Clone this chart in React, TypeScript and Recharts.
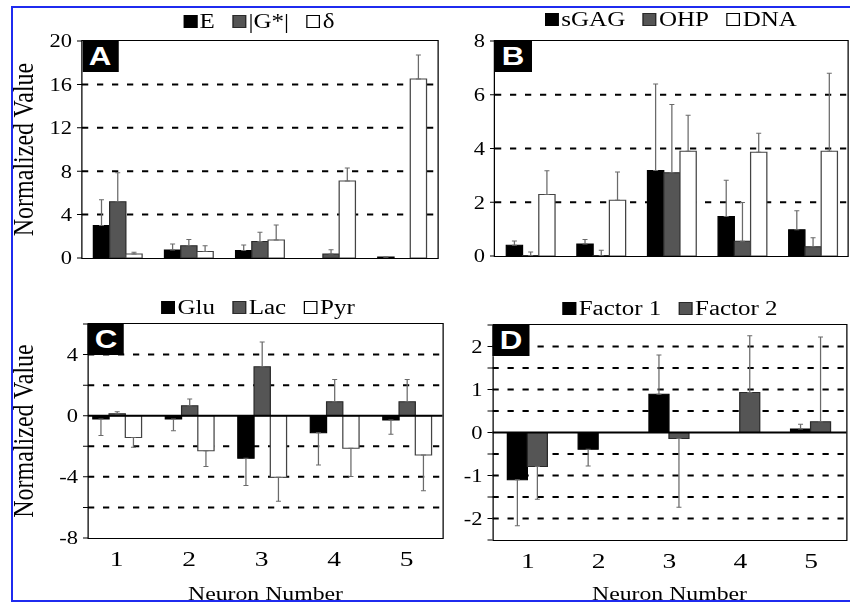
import { Bar, BarChart, CartesianGrid, ErrorBar, ReferenceLine, XAxis, YAxis } from "recharts";

const neurons = ["1", "2", "3", "4", "5"];

// Panel A - mechanics
const eValues = [3.0, 0.74, 0.68, 0, 0.1];
const eErrors = [2.36, 0.55, 0.52, 0, 0];
const gValues = [5.18, 1.14, 1.51, 0.37, 0];
const gErrors = [2.68, 0.56, 0.86, 0.4, 0];
const deltaValues = [0.37, 0.59, 1.66, 7.09, 16.5];
const deltaErrors = [0.15, 0.55, 1.39, 1.2, 2.2];
const ticksA = [0, 4, 8, 12, 16, 20];
const gridA = [4, 8, 12, 16];

// Panel B - biochemistry
const sgagValues = [0.4, 0.45, 3.18, 1.47, 0.98];
const sgagErrors = [0.16, 0.16, 3.22, 1.35, 0.7];
const ohpValues = [0.02, 0.02, 3.1, 0.55, 0.34];
const ohpErrors = [0.13, 0.19, 2.54, 1.44, 0.34];
const dnaValues = [2.29, 2.07, 3.9, 3.86, 3.9];
const dnaErrors = [0.88, 1.06, 1.34, 0.71, 2.9];
const ticksB = [0, 2, 4, 6, 8];
const gridB = [2, 4, 6];

// Panel C - metabolites (negative error = drawn downwards)
const gluValues = [-0.22, -0.22, -2.78, -1.11, -0.28];
const gluErrors = [-1.08, -0.76, -1.79, -2.11, -0.94];
const lacValues = [0.13, 0.65, 3.2, 0.91, 0.91];
const lacErrors = [0.13, 0.44, 1.63, 1.46, 1.46];
const pyrValues = [-1.43, -2.3, -4.02, -2.13, -2.57];
const pyrErrors = [-0.64, -1.03, -1.58, -1.85, -2.34];
const ticksC = [-8, -6, -4, -2, 0, 2, 4, 6];
const gridC = [-6, -4, -2, 2, 4];

// Panel D - factors
const f1Values = [-1.1, -0.39, 0.89, 0, 0.08];
const f1Errors = [-1.07, -0.39, 0.91, 0, 0.11];
const f2Values = [-0.79, 0, -0.14, 0.93, 0.25];
const f2Errors = [-0.76, -1.22, -1.6, 1.32, 1.97];
const ticksD = [-2.5, -2, -1.5, -1, -0.5, 0, 0.5, 1, 1.5, 2, 2.5];
const gridD = [-2, -1.5, -1, -0.5, 0.5, 1, 1.5, 2];

const BLACK = { fill: "#000", stroke: "#000" };
const GRAY = { fill: "#555", stroke: "#2a2a2a" };
const WHITE = { fill: "#fff", stroke: "#444" };

const SERIF = "'Liberation Serif', 'Times New Roman', serif";
const PAD = 12; // room above/below the plot so end tick labels are not clipped

type Series = { name: string; values: number[]; errors: number[]; fill: string; stroke: string };

const buildRows = (series: Series[]) =>
  neurons.map((n, i) => {
    const row: Record<string, unknown> = { neuron: n };
    series.forEach((s, k) => {
      const e = s.errors[i];
      row[`v${k}`] = s.values[i];
      row[`e${k}`] = e >= 0 ? [0, e] : [-e, 0];
    });
    return row;
  });

const Legend = ({ series, cx, cy }: { series: Series[]; cx: number; cy: number }) => (
  <div
    style={{
      position: "absolute",
      left: cx - 200,
      top: cy - 13,
      width: 400,
      height: 26,
      display: "flex",
      justifyContent: "center",
      alignItems: "center",
      gap: 14,
      fontFamily: SERIF,
      fontSize: 20,
      color: "#000",
    }}
  >
    {series.map((s) => (
      <div key={s.name} style={{ display: "flex", alignItems: "center" }}>
        <span
          style={{
            width: 11,
            height: 13,
            boxSizing: "border-box",
            background: s.fill,
            border: `1.3px solid ${s.fill === "#fff" ? "#000" : s.stroke}`,
            marginRight: 2,
          }}
        />
        <span>{s.name}</span>
      </div>
    ))}
  </div>
);

interface PanelProps {
  letter: string;
  series: Series[];
  left: number;
  top: number;
  width: number;
  plotHeight: number;
  yWidth: number;
  xHeight: number;
  domain: [number, number];
  ticks: number[];
  grid: number[];
  showLabel: (v: number) => boolean;
  gap: string;
  yTitle?: boolean;
  padLeft?: number;
  legendX: number;
  legendY: number;
}

const Panel = (p: PanelProps) => {
  const plotLeft = p.left + p.yWidth;
  const plotWidth = p.width - p.yWidth;
  const showX = p.xHeight > 0;
  const bottom = showX ? 0 : PAD;
  return (
    <>
      <Legend series={p.series} cx={p.legendX} cy={p.legendY} />
      <div style={{ position: "absolute", left: p.left, top: p.top - PAD }}>
        <BarChart
          width={p.width}
          height={p.plotHeight + p.xHeight + PAD + bottom}
          data={buildRows(p.series)}
          margin={{ top: PAD, right: 0, bottom, left: 0 }}
          barCategoryGap={p.gap}
          barGap={0}
        >
          <CartesianGrid
            vertical={false}
            horizontalValues={p.grid}
            stroke="#000"
            strokeWidth={2}
            strokeDasharray="5 7"
          />
          <XAxis
            dataKey="neuron"
            hide={!showX}
            height={p.xHeight}
            axisLine={false}
            tickLine={false}
            tickSize={0}
            tickMargin={12}
            padding={{ left: p.padLeft ?? 0, right: 0 }}
            tick={{ fill: "#000", fontSize: 22, fontFamily: SERIF }}
            label={{
              value: "Neuron Number",
              position: "insideBottom",
              style: { fontSize: 19, fill: "#000", fontFamily: SERIF },
            }}
          />
          <YAxis
            width={p.yWidth}
            domain={p.domain}
            ticks={p.ticks}
            interval={0}
            axisLine={false}
            tickLine={{ stroke: "#000" }}
            tickSize={4}
            tickMargin={4}
            tickFormatter={(v: number) => (p.showLabel(v) ? String(v) : "")}
            tick={{ fill: "#000", fontSize: 18, fontFamily: SERIF }}
            label={
              p.yTitle
                ? {
                    value: "Normalized Value",
                    angle: -90,
                    position: "insideLeft",
                    offset: 17.6,
                    style: { textAnchor: "middle", fontSize: 24, fill: "#000", fontFamily: SERIF },
                  }
                : undefined
            }
          />
          {p.domain[0] < 0 && <ReferenceLine y={0} stroke="#000" strokeWidth={2} />}
          {p.series.map((s, k) => (
            <Bar
              key={s.name}
              dataKey={`v${k}`}
              name={s.name}
              fill={s.fill}
              stroke={s.stroke}
              strokeWidth={1}
              isAnimationActive={false}
            >
              <ErrorBar dataKey={`e${k}`} direction="y" width={2} stroke="#6a6a6a" strokeWidth={1} />
            </Bar>
          ))}
        </BarChart>
      </div>
      <div
        style={{
          position: "absolute",
          left: plotLeft - 0.75,
          top: p.top - 0.75,
          width: plotWidth + 1.5,
          height: p.plotHeight + 1.5,
          boxSizing: "border-box",
          border: "1.5px solid #000",
          pointerEvents: "none",
        }}
      />
      <div
        style={{
          position: "absolute",
          left: plotLeft,
          top: p.top,
          width: 29,
          height: 31,
          background: "#000",
          color: "#fff",
          fontFamily: "'Liberation Sans', Arial, sans-serif",
          fontWeight: 700,
          fontSize: 25,
          lineHeight: "31px",
          textAlign: "center",
        }}
      >
        {p.letter}
      </div>
    </>
  );
};

const seriesA: Series[] = [
  { name: "E", values: eValues, errors: eErrors, ...BLACK },
  { name: "|G*|", values: gValues, errors: gErrors, ...GRAY },
  { name: "δ", values: deltaValues, errors: deltaErrors, ...WHITE },
];
const seriesB: Series[] = [
  { name: "sGAG", values: sgagValues, errors: sgagErrors, ...BLACK },
  { name: "OHP", values: ohpValues, errors: ohpErrors, ...GRAY },
  { name: "DNA", values: dnaValues, errors: dnaErrors, ...WHITE },
];
const seriesC: Series[] = [
  { name: "Glu", values: gluValues, errors: gluErrors, ...BLACK },
  { name: "Lac", values: lacValues, errors: lacErrors, ...GRAY },
  { name: "Pyr", values: pyrValues, errors: pyrErrors, ...WHITE },
];
const seriesD: Series[] = [
  { name: "Factor 1", values: f1Values, errors: f1Errors, ...BLACK },
  { name: "Factor 2", values: f2Values, errors: f2Errors, ...GRAY },
];

export default function App() {
  return (
    <div style={{ position: "absolute", left: 0, top: 0, width: 850, height: 603, overflow: "hidden", background: "#fff" }}>
      {/* the original figure is stretched horizontally */}
      <div style={{ position: "absolute", left: 0, top: 0, width: 680, height: 603, transform: "scaleX(1.25)", transformOrigin: "0 0" }}>
        <Panel
          letter="A"
          series={seriesA}
          left={0}
          top={41}
          width={350}
          plotHeight={217}
          yWidth={65.6}
          xHeight={0}
          domain={[0, 20]}
          ticks={ticksA}
          grid={gridA}
          showLabel={() => true}
          gap="16%"
          yTitle
          legendX={207.2}
          legendY={21}
        />
        <Panel
          letter="B"
          series={seriesB}
          left={356}
          top={41}
          width={322.4}
          plotHeight={215}
          yWidth={40}
          xHeight={0}
          domain={[0, 8]}
          ticks={ticksB}
          grid={gridB}
          showLabel={() => true}
          gap="16%"
          legendX={536.8}
          legendY={19}
        />
        <Panel
          letter="C"
          series={seriesC}
          left={0}
          top={324}
          width={354.4}
          plotHeight={214}
          yWidth={70.4}
          xHeight={67}
          domain={[-8, 6]}
          ticks={ticksC}
          grid={gridC}
          showLabel={(v) => v % 4 === 0}
          gap="17%"
          yTitle
          padLeft={-6}
          legendX={206.4}
          legendY={307}
        />
        <Panel
          letter="D"
          series={seriesD}
          left={354.4}
          top={325}
          width={323.2}
          plotHeight={215}
          yWidth={40}
          xHeight={65}
          domain={[-2.5, 2.5]}
          ticks={ticksD}
          grid={gridD}
          showLabel={(v) => Number.isInteger(v)}
          gap="21%"
          legendX={536}
          legendY={308}
        />
      </div>
      <div style={{ position: "absolute", left: 11, top: 6, width: 839, height: 2, background: "#1f2bef" }} />
      <div style={{ position: "absolute", left: 11, top: 6, width: 2, height: 596, background: "#1f2bef" }} />
      <div style={{ position: "absolute", left: 11, top: 600, width: 839, height: 2, background: "#1f2bef" }} />
    </div>
  );
}
